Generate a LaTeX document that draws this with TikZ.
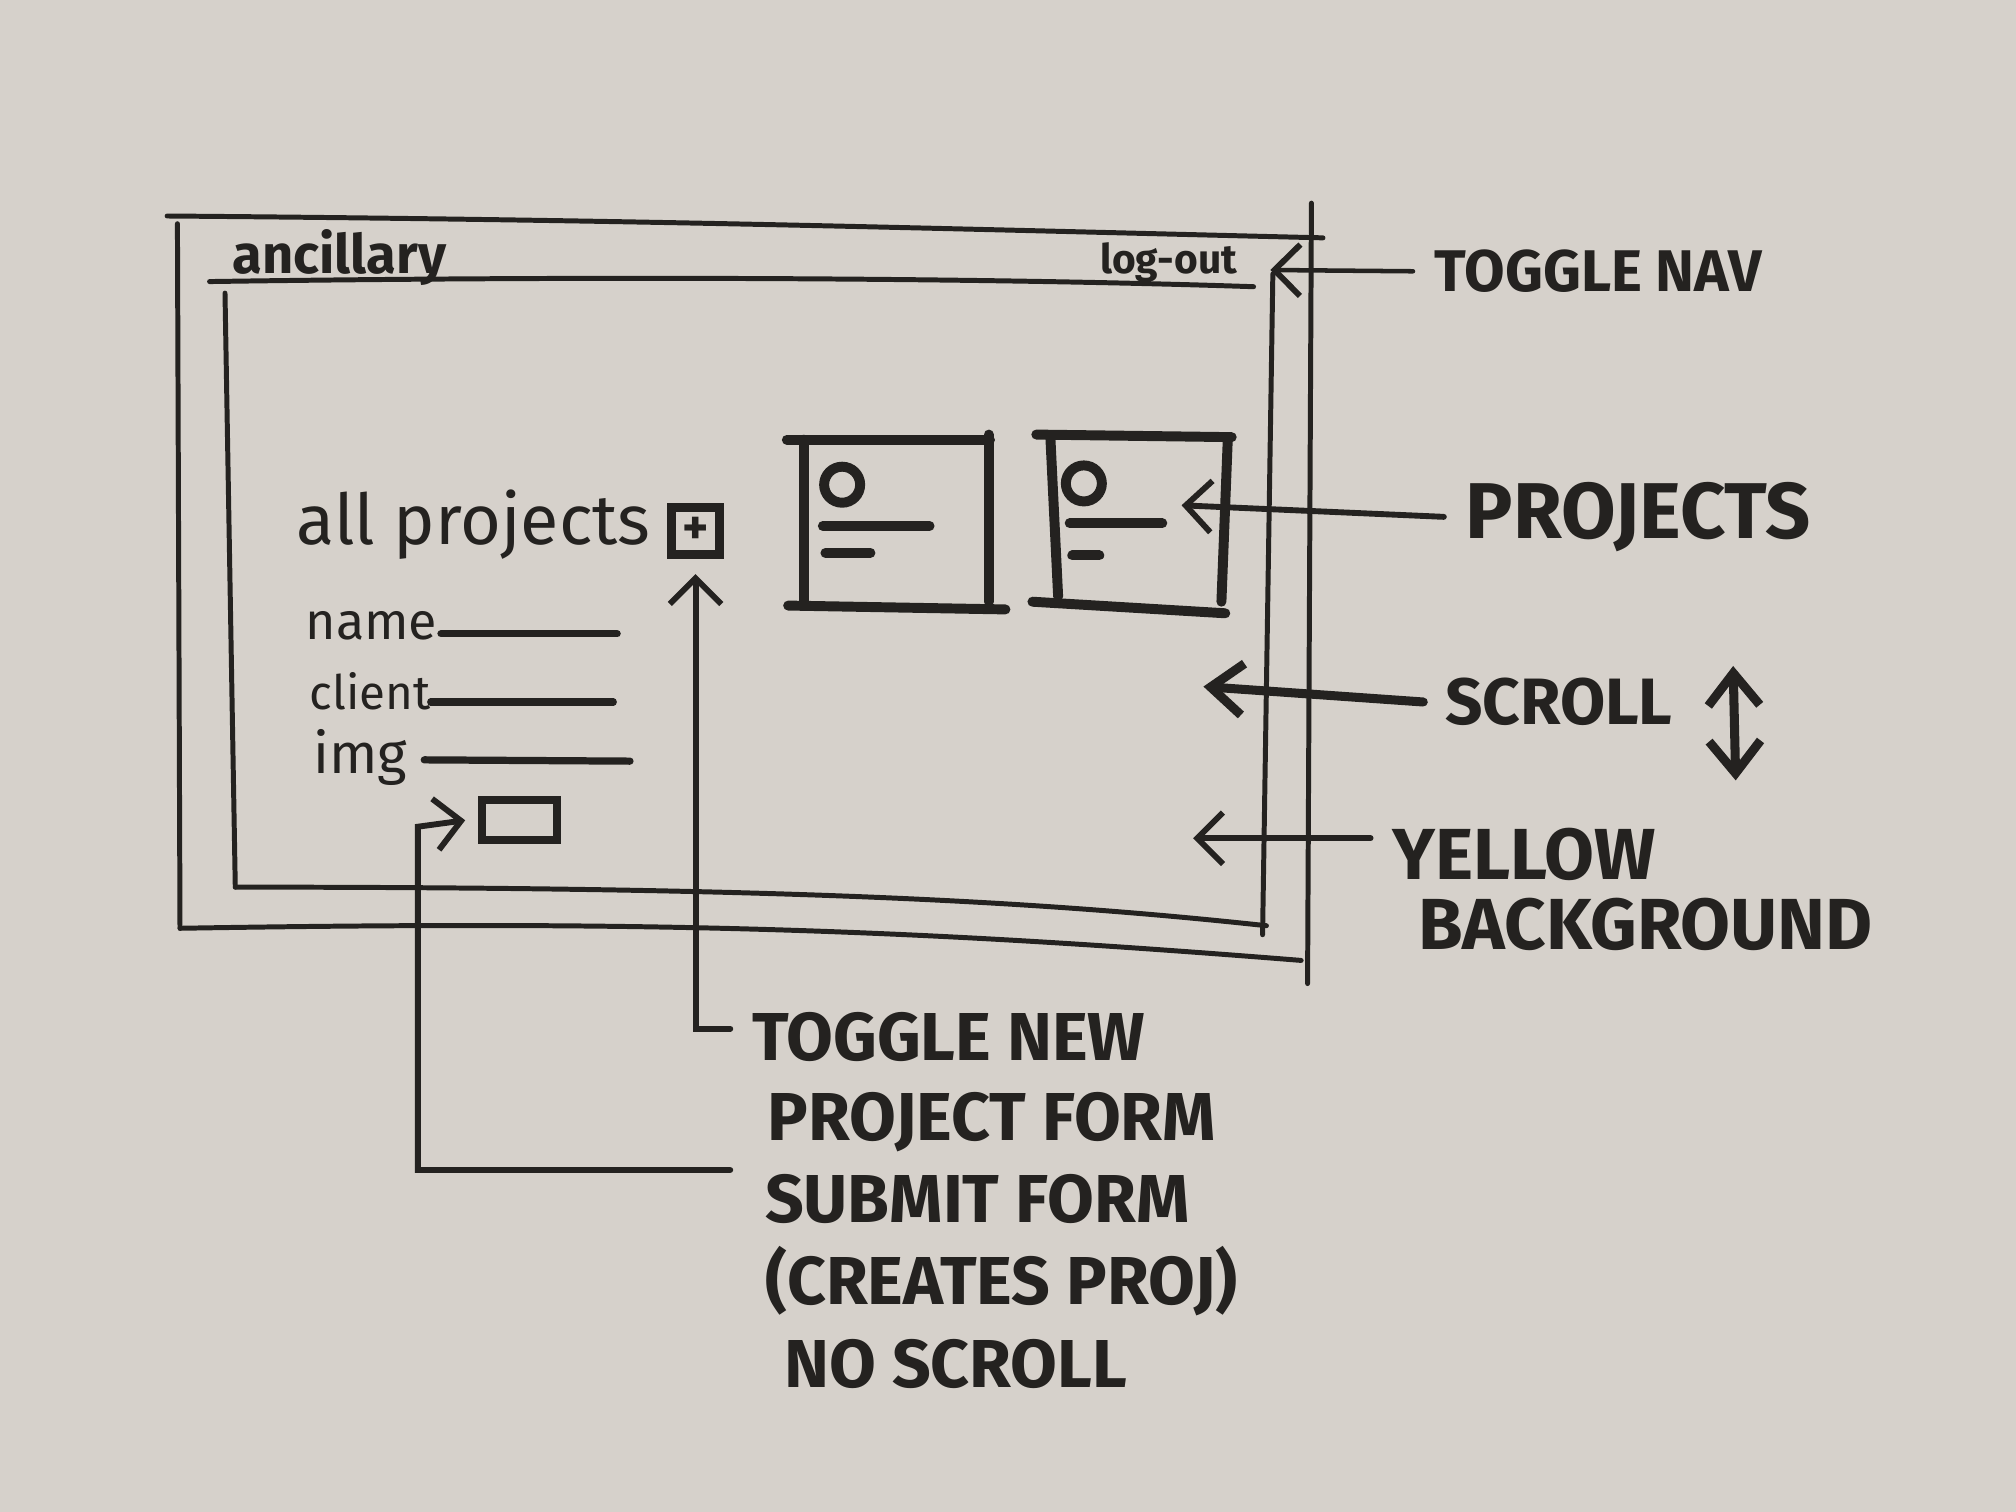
\documentclass[tikz,border=0pt]{standalone}
\usepackage{fontspec}
\setmainfont{Fira Sans}
\usetikzlibrary{arrows.meta}
\definecolor{paper}{RGB}{214,209,203}
\definecolor{ink}{RGB}{36,34,32}
\tikzset{
  frame/.style={draw=ink, line width=1.1pt, line cap=round},
  marker/.style={draw=ink, line width=2.2pt, line cap=round},
  pointer/.style={draw=ink, line width=1.3pt, line cap=round,
    -{Straight Barb[length=2mm,width=4mm,line width=1.3pt]}},
  sketch/.style={text=ink, inner sep=0pt, anchor=west},
  note/.style={text=ink, inner sep=0pt, outer sep=0.17cm, anchor=west,
    font=\bfseries\fontsize{15}{18.3}\selectfont},
}
\begin{document}
\begin{tikzpicture}[x=0.01cm, y=-0.01cm]
    \fill[paper] (0,0) rectangle (1568,1176);
    \useasboundingbox (0,0) rectangle (1568,1176);
    % browser window
    \draw[frame] (130,168) .. controls (500,171) and (700,177) .. (1029,185);
    \draw[frame] (138,174) -- (140,722);
    \draw[frame] (140,722) .. controls (500,716) and (700,722) .. (1012,747);
    \draw[frame] (1020,158) -- (1017,765);
    % nav bar
    \draw[frame] (163,219) .. controls (500,214) and (800,217) .. (975,223);
    \node[sketch, font=\bfseries\fontsize{12}{14}\selectfont] (brand) at (180,200) {ancillary};
    \node[sketch, font=\bfseries\fontsize{9}{11}\selectfont] (logout) at (855,204) {log-out};
    % content area
    \draw[frame] (175,228) -- (183,690);
    \draw[frame] (183,690) .. controls (600,690) and (800,700) .. (985,720);
    \draw[frame] (990,213) -- (982,727);
    % new project form
    \node[sketch, font=\fontsize{15.5}{18}\selectfont] (allproj) at (230,408) {all projects};
    \node[draw=ink, line width=2pt, minimum width=0.37cm, minimum height=0.36cm, inner sep=0pt,
      font=\bfseries\fontsize{11}{11}\selectfont, text=ink] (plusbox) at (541,413) {+};
    \node[sketch, font=\fontsize{11.5}{13}\selectfont] (fname) at (237,487) {name};
    \node[sketch, font=\fontsize{10.5}{13}\selectfont] (fclient) at (240,538) {client};
    \node[sketch, font=\fontsize{12.5}{14}\selectfont] (fimg) at (243,589) {img};
    \draw[marker, line width=1.6pt] (343,493) -- (480,493);
    \draw[marker, line width=1.6pt] (335,546) -- (477,546);
    \draw[marker, line width=1.6pt] (330,591) -- (490,592);
    \node[draw=ink, line width=1.8pt, minimum width=0.58cm, minimum height=0.31cm] (submitbtn) at (404,638) {};
    % project cards
    \draw[marker] (612,342) -- (770,342);
    \draw[marker] (625,342) -- (625,467);
    \draw[marker] (769,338) -- (769,468);
    \draw[marker] (613,471) -- (782,474);
    \draw[marker] (655,377) circle (0.14cm);
    \draw[marker] (640,409) -- (723,409);
    \draw[marker] (642,430) -- (677,430);
    \draw[marker] (806,338) -- (958,340);
    \draw[marker] (817,341) -- (823,464);
    \draw[marker] (955,340) -- (950,468);
    \draw[marker] (803,468) -- (953,477);
    \draw[marker] (843,376) circle (0.14cm);
    \draw[marker] (832,407) -- (904,407);
    \draw[marker] (834,432) -- (855,432);
    % labels on the right
    \node[note, font=\bfseries\fontsize{13}{15}\selectfont] (navlabel) at (1099,211) {TOGGLE NAV};
    \node[note, font=\bfseries\fontsize{17.5}{20}\selectfont] (projlabel) at (1123,402) {PROJECTS};
    \node[note, font=\bfseries\fontsize{14.5}{17}\selectfont] (scrolllabel) at (1107,546) {SCROLL};
    \node[note, align=left, anchor=north west, font=\bfseries\fontsize{16}{15.5}\selectfont]
      (yellowlabel) at (1066,627) {YELLOW\\\hspace*{0.2cm}BACKGROUND};
    \coordinate (navtip) at (988,210);
    \coordinate (projtip) at (919,393);
    \coordinate (scrolltip) at (936,534);
    \coordinate (yellowtip) at (928,652);
    \draw[pointer, line width=1pt] (navlabel.west) -- (navtip);
    \draw[pointer] (projlabel.west) -- (projtip);
    \draw[pointer, line width=2pt, -{Straight Barb[length=2.5mm,width=4mm,line width=2pt]}] (scrolllabel.west) -- (scrolltip);
    \draw[pointer] (yellowlabel.north west |- yellowtip) -- (yellowtip);
    \coordinate (scrolltop) at (1348,518);
    \coordinate (scrollbot) at (1350,607);
    \draw[pointer, line width=2pt, {Straight Barb[length=2.5mm,width=4mm,line width=2pt]}-{Straight Barb[length=2.5mm,width=4mm,line width=2pt]}] (scrolltop) -- (scrollbot);
    % labels below
    \node[note, align=left, anchor=north west, font=\bfseries\fontsize{15}{17.8}\selectfont]
      (newlabel) at (568,770) {TOGGLE NEW\\\hspace*{0.12cm}PROJECT FORM};
    \node[note, align=left, anchor=north west] (submitlabel) at (578,896) {SUBMIT FORM\\(CREATES PROJ)\\\hspace*{0.15cm}NO SCROLL};
    \coordinate (newfoot) at (568,800);
    \coordinate (submitfoot) at (568,910);
    \coordinate (submitbend) at (325,643);
    \draw[pointer] (newfoot) -| ([yshift=-0.12cm]plusbox.south);
    \draw[pointer] (submitfoot) -| (submitbend) -- ([xshift=-0.1cm]submitbtn.west);
\end{tikzpicture}
\end{document}
